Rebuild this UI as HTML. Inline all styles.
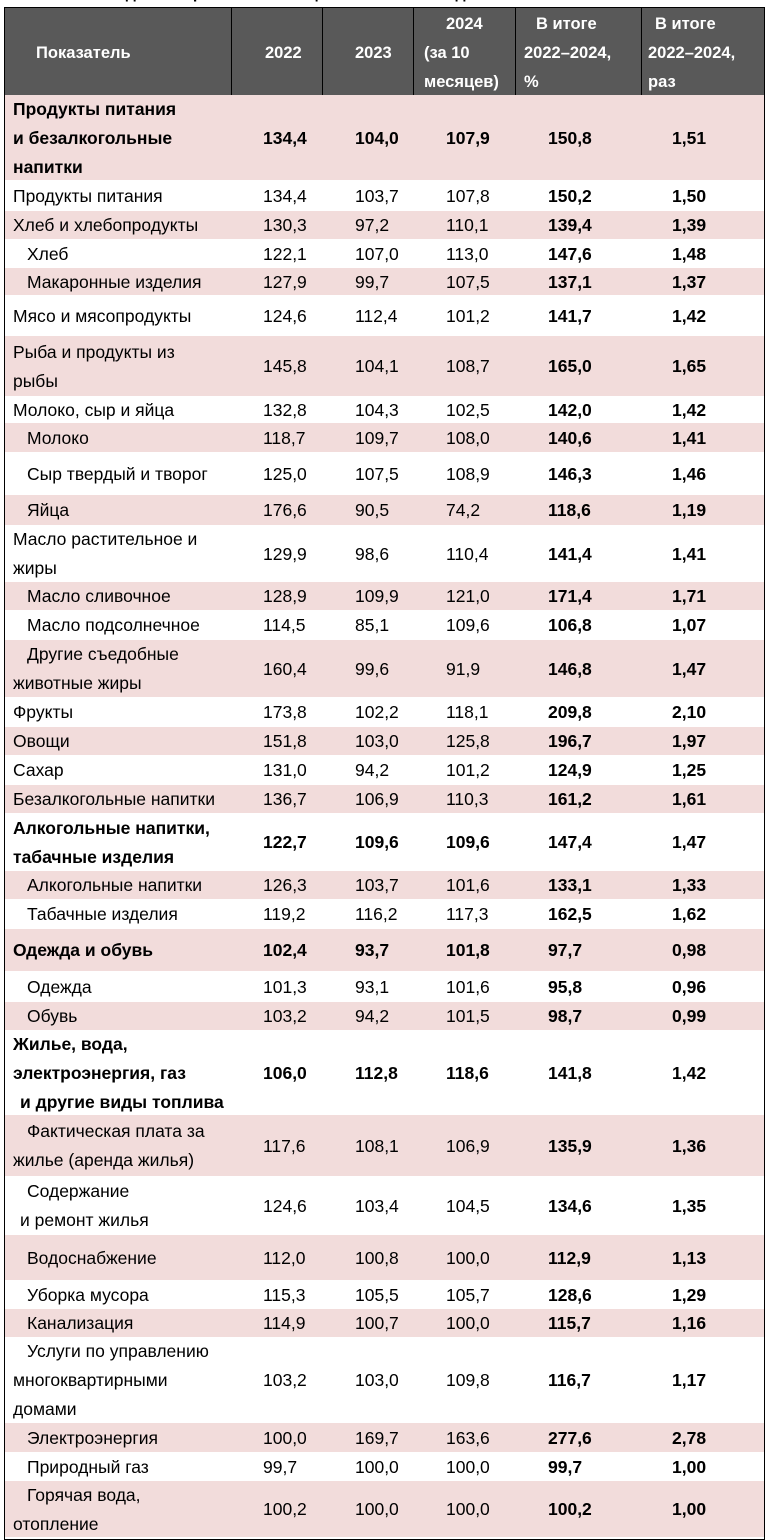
<!DOCTYPE html>
<html><head><meta charset="utf-8">
<style>
body{margin:0;width:770px;height:1540px;background:#fff;overflow:hidden;position:relative;font-family:"Liberation Sans","Noto Sans CJK SC",sans-serif;color:#000}
#tbl{position:absolute;left:4px;top:7px;width:759px;height:1531px;border:1px solid #000;}
.hdr{position:absolute;left:5px;top:8px;width:759px;height:87px;background:#595959;}
.vl{position:absolute;top:8px;height:87px;width:1px;background:#000}
.ht{position:absolute;color:#fff;font-weight:bold;font-size:16.5px;line-height:29px;white-space:nowrap}
.row{position:absolute;left:5px;width:759px}
.pink{background:#f2dcdb}
.c{position:absolute;font-size:17.5px;line-height:29px;white-space:nowrap}
.b{font-weight:bold}
</style></head><body>
<div style="position:absolute;left:40px;top:-15px;font-size:16px;font-weight:bold;white-space:nowrap">Табл. 1. Индекс потребительских цен в 2022–2024 годах</div>
<div id="tbl"></div>
<div class="hdr"></div>
<div class="vl" style="left:231px"></div><div class="vl" style="left:322px"></div><div class="vl" style="left:413px"></div><div class="vl" style="left:515px"></div><div class="vl" style="left:641px"></div>
<div class="ht" style="left:36px;top:39px">Показатель</div>
<div class="ht" style="left:265px;top:39px">2022</div>
<div class="ht" style="left:355px;top:39px">2023</div>
<div class="ht" style="left:424px;top:10px"><span style="margin-left:22px">2024</span><br>(за 10<br>месяцев)</div>
<div class="ht" style="left:524px;top:10px"><span style="margin-left:12px">В итоге</span><br>2022–2024,<br>%</div>
<div class="ht" style="left:648px;top:10px"><span style="margin-left:7px">В итоге</span><br>2022–2024,<br>раз</div>
<div id="body"></div>
<script>
const labels=[
["Продукты питания","и безалкогольные","напитки"],["Продукты питания"],["Хлеб и хлебопродукты"],["  Хлеб"],["  Макаронные изделия"],
["Мясо и мясопродукты"],["Рыба и продукты из","рыбы"],["Молоко, сыр и яйца"],["  Молоко"],["  Сыр твердый и творог"],["  Яйца"],
["Масло растительное и","жиры"],["  Масло сливочное"],["  Масло подсолнечное"],["  Другие съедобные","животные жиры"],
["Фрукты"],["Овощи"],["Сахар"],["Безалкогольные напитки"],["Алкогольные напитки,","табачные изделия"],["  Алкогольные напитки"],["  Табачные изделия"],
["Одежда и обувь"],["  Одежда"],["  Обувь"],["Жилье, вода,","электроэнергия, газ"," и другие виды топлива"],
["  Фактическая плата за","жилье (аренда жилья)"],["  Содержание"," и ремонт жилья"],["  Водоснабжение"],["  Уборка мусора"],["  Канализация"],
["  Услуги по управлению","многоквартирными","домами"],["  Электроэнергия"],["  Природный газ"],["  Горячая вода,","отопление"]];
const boldRows=[0,19,22,25];
const v2022=["134,4","134,4","130,3","122,1","127,9","124,6","145,8","132,8","118,7","125,0","176,6","129,9","128,9","114,5","160,4","173,8","151,8","131,0","136,7","122,7","126,3","119,2","102,4","101,3","103,2","106,0","117,6","124,6","112,0","115,3","114,9","103,2","100,0","99,7","100,2"];
const v2023=["104,0","103,7","97,2","107,0","99,7","112,4","104,1","104,3","109,7","107,5","90,5","98,6","109,9","85,1","99,6","102,2","103,0","94,2","106,9","109,6","103,7","116,2","93,7","93,1","94,2","112,8","108,1","103,4","100,8","105,5","100,7","103,0","169,7","100,0","100,0"];
const v2024=["107,9","107,8","110,1","113,0","107,5","101,2","108,7","102,5","108,0","108,9","74,2","110,4","121,0","109,6","91,9","118,1","125,8","101,2","110,3","109,6","101,6","117,3","101,8","101,6","101,5","118,6","106,9","104,5","100,0","105,7","100,0","109,8","163,6","100,0","100,0"];
const vPct=["150,8","150,2","139,4","147,6","137,1","141,7","165,0","142,0","140,6","146,3","118,6","141,4","171,4","106,8","146,8","209,8","196,7","124,9","161,2","147,4","133,1","162,5","97,7","95,8","98,7","141,8","135,9","134,6","112,9","128,6","115,7","116,7","277,6","99,7","100,2"];
const vTimes=["1,51","1,50","1,39","1,48","1,37","1,42","1,65","1,42","1,41","1,46","1,19","1,41","1,71","1,07","1,47","2,10","1,97","1,25","1,61","1,47","1,33","1,62","0,98","0,96","0,99","1,42","1,36","1,35","1,13","1,29","1,16","1,17","2,78","1,00","1,00"];
const edges=[95,181,211,240,268,296,336,397,423,453,495,526,582,611,640,698,727,756,785,814,871,900,929,972,1002,1031,1115,1177,1235,1281,1309,1338,1423,1453,1481,1538];
const body=document.getElementById('body');
function cell(row,txt,left,bold,name){const d=document.createElement('div');d.className='c'+(bold?' b':'');d.style.left=left+'px';d.innerHTML=txt;


row.appendChild(d);return d;}
labels.forEach((lab,i)=>{
 const top=edges[i],h=edges[i+1]-top;
 const r=document.createElement('div');r.className='row'+(i%2==0?' pink':'');
 r.style.top=top+'px';r.style.height=(i%2==0?h-1:h)+'px';
 
 
 body.appendChild(r);
 const bold=boldRows.includes(i);
 const lblH=lab.length*29;
 const lt=(h-lblH)/2;
 const l=cell(r,lab.map(s=>s.replace(/^ +/,m=>'<span style="display:inline-block;width:'+(m.length*7)+'px"></span>')).join('<br>'),8,bold,'row-label');
 l.style.top=lt+'px';
 const vt=(h-29)/2;
 [[v2022,258,bold,'value-2022'],[v2023,350,bold,'value-2023'],[v2024,441,bold,'value-2024'],[vPct,543,true,'value-total-percent'],[vTimes,667,true,'value-total-times']].forEach(a=>{
  const c=cell(r,a[0][i],a[1],a[2],a[3]);c.style.top=vt+'px';});
});
</script>
</body></html>
